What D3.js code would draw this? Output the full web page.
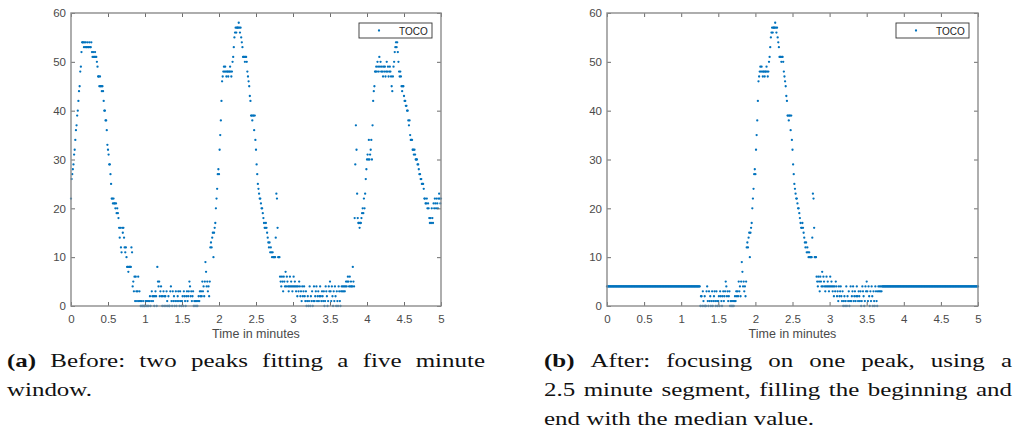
<!DOCTYPE html>
<html lang="en">
<head>
  <meta charset="UTF-8">
  <title>TOCO before / after</title>
  <script src="https://d3js.org/d3.v7.min.js"></script>
  <style>
    body {
      margin: 0;
      background: #fff;
    }

    .tick text {
      font-family: "Liberation Sans", Arial, sans-serif;
      font-size: 11.5px;
      fill: #4a4a4a;
    }

    .tick line {
      stroke: #6e6e6e;
    }

    .caption {
      font-family: "Liberation Serif", "Times New Roman", serif;
      font-size: 19.5px;
      fill: #111;
    }
  </style>
</head>
<body>
  <div id="chart"></div>

  <script>
    // TOCO samples, 2 per second, 0 .. 5 minutes (one row = 10 s)
    const sampleRate = 2;
    const tocoValues = [
      22, 26, 27, 28, 29, 31, 32, 34, 36, 37, 39, 40, 42, 44, 45, 48, 49, 52, 54, 54,
      54, 53, 54, 53, 54, 53, 53, 54, 53, 53, 54, 53, 53, 54, 52, 51, 52, 51, 51, 52,
      51, 51, 50, 49, 47, 47, 45, 47, 45, 45, 44, 45, 44, 42, 40, 40, 38, 38, 36, 33,
      32, 31, 29, 29, 27, 25, 22, 22, 21, 22, 21, 21, 20, 21, 19, 20, 19, 18, 16, 14,
      16, 12, 11, 16, 15, 16, 14, 12, 11, 12, 10, 8, 8, 7, 8, 8, 8, 8, 12, 11,
      4, 5, 3, 6, 1, 6, 3, 1, 3, 6, 1, 3, 1, 0, 1, 0, 0, 1, 0, 0,
      0, 1, 0, 1, 0, 1, 0, 1, 2, 0, 1, 3, 2, 1, 2, 0, 2, 3, 2, 0,
      8, 5, 4, 5, 2, 3, 4, 2, 0, 2, 3, 0, 2, 2, 0, 3, 1, 0, 2, 0,
      0, 3, 4, 1, 0, 3, 1, 2, 0, 1, 3, 0, 1, 2, 3, 1, 0, 3, 1, 0,
      1, 2, 0, 3, 2, 1, 0, 2, 3, 1, 2, 3, 5, 4, 2, 3, 1, 2, 3, 0,
      1, 0, 1, 0, 1, 0, 1, 2, 1, 3, 2, 3, 2, 5, 3, 4, 2, 5, 9, 7,
      4, 5, 3, 4, 2, 5, 12, 13, 12, 14, 15, 10, 15, 16, 17, 20, 22, 24, 27, 28,
      27, 32, 35, 38, 42, 46, 47, 48, 49, 48, 49, 48, 47, 48, 48, 47, 48, 48, 49, 48,
      47, 48, 50, 51, 53, 55, 56, 57, 56, 57, 57, 57, 58, 57, 56, 57, 55, 54, 53, 51,
      51, 51, 50, 51, 51, 50, 48, 47, 46, 45, 43, 42, 39, 39, 38, 39, 39, 36, 39, 34,
      32, 29, 27, 25, 24, 23, 22, 22, 21, 20, 20, 19, 18, 17, 16, 16, 17, 16, 15, 14,
      13, 12, 13, 11, 12, 11, 10, 11, 10, 10, 10, 10, 14, 23, 22, 16, 10, 10, 10, 6,
      5, 4, 6, 5, 3, 6, 5, 4, 7, 4, 6, 5, 4, 3, 4, 6, 4, 5, 4, 3,
      4, 6, 4, 5, 4, 3, 4, 2, 4, 3, 5, 4, 2, 3, 1, 4, 2, 3, 4, 2,
      1, 3, 0, 1, 2, 0, 1, 4, 0, 2, 1, 3, 0, 1, 4, 1, 2, 3, 4, 1,
      2, 3, 1, 2, 4, 2, 1, 3, 2, 1, 3, 0, 1, 4, 3, 2, 0, 1, 4, 3,
      5, 3, 1, 4, 2, 0, 3, 1, 4, 2, 0, 3, 1, 0, 4, 3, 1, 0, 3, 4,
      3, 4, 3, 4, 3, 4, 5, 4, 5, 6, 5, 4, 6, 4, 5, 4, 4, 8, 5, 4,
      18, 29, 37, 32, 23, 18, 17, 17, 16, 17, 17, 18, 19, 20, 19, 22, 20, 23, 26, 28,
      30, 31, 30, 34, 30, 31, 32, 34, 30, 37, 42, 44, 45, 48, 48, 49, 48, 50, 49, 48,
      51, 49, 50, 48, 49, 48, 47, 49, 48, 49, 47, 48, 50, 48, 49, 47, 48, 49, 48, 47,
      45, 44, 47, 49, 50, 52, 53, 54, 53, 54, 52, 50, 48, 47, 48, 47, 45, 44, 45, 45,
      43, 42, 42, 41, 41, 40, 40, 38, 37, 38, 35, 34, 34, 34, 32, 32, 31, 32, 31, 30,
      30, 30, 29, 29, 28, 27, 27, 26, 26, 25, 25, 25, 24, 22, 22, 21, 21, 22, 20, 21,
      20, 18, 17, 18, 17, 20, 18, 17, 21, 20, 22, 21, 20, 22, 21, 20, 22, 23, 22, 21,
      22
    ];

    // segment kept for panel (b), in seconds, and the median used for filling
    const segmentSeconds = [75.5, 222];
    const medianFill = 4;

    const xTicks = [0, 0.5, 1, 1.5, 2, 2.5, 3, 3.5, 4, 4.5, 5];
    const yTicks = [0, 10, 20, 30, 40, 50, 60];
    const xLabel = 'Time in minutes';
    const legendLabel = 'TOCO';

    const captionA = [
      { words: ['(a)', 'Before:', 'two', 'peaks', 'fitting', 'a', 'five', 'minute'], justify: true },
      { words: ['window.'], justify: false }
    ];
    const captionB = [
      { words: ['(b)', 'After:', 'focusing', 'on', 'one', 'peak,', 'using', 'a'], justify: true },
      { words: ['2.5', 'minute', 'segment,', 'filling', 'the', 'beginning', 'and'], justify: true },
      { words: ['end', 'with', 'the', 'median', 'value.'], justify: false }
    ];

    const beforeData = tocoValues.map((v, i) => ({ t: i / sampleRate / 60, v: v }));
    const afterData = tocoValues.map((v, i) => {
      const s = i / sampleRate;
      const inside = s >= segmentSeconds[0] && s <= segmentSeconds[1];
      return { t: s / 60, v: inside ? v : medianFill };
    });

    const width = 1023;
    const height = 436;
    const blue = '#0072BD';

    const svg = d3.select('#chart')
      .append('svg')
      .attr('width', width)
      .attr('height', height);

    function drawPanel(left, right, data) {
      const top = 13, bottom = 306;
      const x = d3.scaleLinear().domain([0, 5]).range([left, right]);
      const y = d3.scaleLinear().domain([0, 60]).range([bottom, top]);
      const g = svg.append('g');

      g.append('rect')
        .attr('x', left).attr('y', top)
        .attr('width', right - left).attr('height', bottom - top)
        .attr('fill', '#fff');

      // dots
      g.append('g')
        .selectAll('circle')
        .data(data)
        .enter()
        .append('circle')
        .attr('cx', d => x(d.t))
        .attr('cy', d => y(d.v))
        .attr('r', 1.15)
        .attr('fill', blue);

      const fmt = d => String(d);
      const bx = g.append('g').attr('transform', `translate(0,${bottom})`)
        .call(d3.axisBottom(x).tickValues(xTicks).tickFormat(fmt).tickSize(-4).tickPadding(9));
      const tx = g.append('g').attr('transform', `translate(0,${top})`)
        .call(d3.axisTop(x).tickValues(xTicks).tickFormat('').tickSize(-4));
      const ly = g.append('g').attr('transform', `translate(${left},0)`)
        .call(d3.axisLeft(y).tickValues(yTicks).tickFormat(fmt).tickSize(-4).tickPadding(5));
      const ry = g.append('g').attr('transform', `translate(${right},0)`)
        .call(d3.axisRight(y).tickValues(yTicks).tickFormat('').tickSize(-4));
      [bx, tx, ly, ry].forEach(a => a.select('.domain').remove());

      g.append('rect')
        .attr('x', left).attr('y', top)
        .attr('width', right - left).attr('height', bottom - top)
        .attr('fill', 'none')
        .attr('stroke', '#8c8c8c')
        .attr('stroke-width', 1.4);

      g.append('text')
        .attr('x', (left + right) / 2)
        .attr('y', 338)
        .attr('text-anchor', 'middle')
        .attr('font-family', '"Liberation Sans", Arial, sans-serif')
        .attr('font-size', 12.5)
        .attr('fill', '#4a4a4a')
        .text(xLabel);

      // legend
      const lg = g.append('g').attr('transform', `translate(${right - 82},23)`);
      lg.append('rect')
        .attr('width', 73).attr('height', 15)
        .attr('fill', '#fff')
        .attr('stroke', '#333')
        .attr('stroke-width', 0.9);
      lg.append('circle')
        .attr('cx', 20).attr('cy', 7.5).attr('r', 1.15)
        .attr('fill', blue);
      lg.append('text')
        .attr('x', 40).attr('y', 11.5)
        .attr('font-family', '"Liberation Sans", Arial, sans-serif')
        .attr('font-size', 10)
        .attr('fill', '#222')
        .text(legendLabel);
    }

    drawPanel(71, 441, beforeData);
    drawPanel(607, 978, afterData);

    // captions: Times stretched sideways to get closer to Computer Modern widths
    const stretch = 1.28;

    function drawCaption(lines, x0, x1, firstBaseline, lineGap) {
      const g = svg.append('g')
        .attr('transform', `translate(${x0},0) scale(${stretch},1)`);
      const room = (x1 - x0) / stretch;
      lines.forEach((line, li) => {
        const t = g.append('text')
          .attr('class', 'caption')
          .attr('y', firstBaseline + li * lineGap);
        const spans = line.words.map(w => t.append('tspan')
          .attr('font-weight', /^\([ab]\)$/.test(w) ? 'bold' : null)
          .text(w));
        const widths = spans.map(s => s.node().getComputedTextLength());
        const total = d3.sum(widths);
        let gap = 5;
        if (line.justify && spans.length > 1) gap = (room - total) / (spans.length - 1);
        let cx = 0;
        spans.forEach((s, i) => {
          s.attr('x', cx);
          cx += widths[i] + gap;
        });
      });
    }

    drawCaption(captionA, 7, 485, 367, 29);
    drawCaption(captionB, 544, 1012, 367, 29);
  </script>
</body>
</html>
